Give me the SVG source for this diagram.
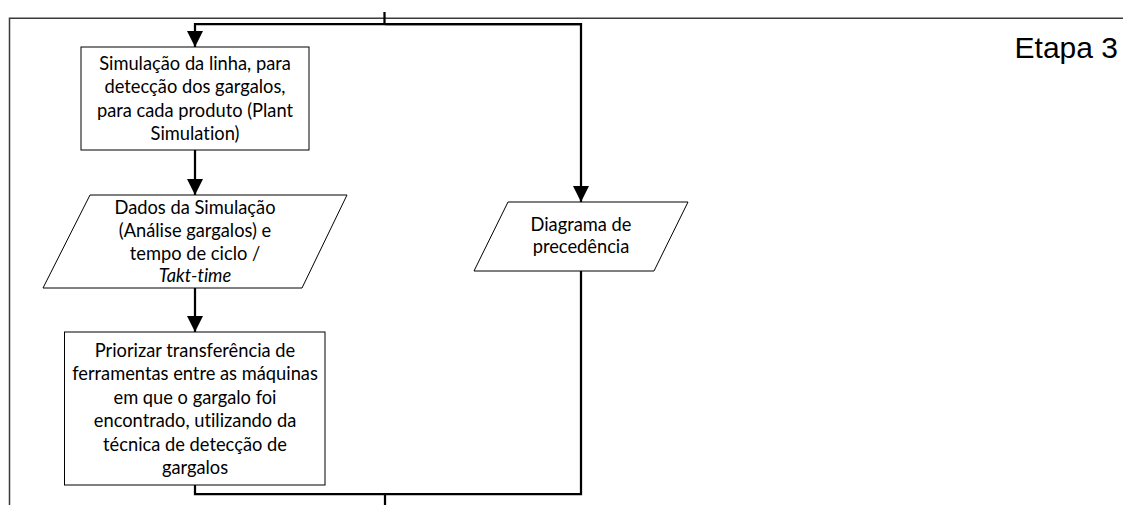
<svg xmlns="http://www.w3.org/2000/svg" width="1123" height="505" viewBox="0 0 1123 505">
  <style>
    .frame { fill: none; stroke: #3a3a3a; stroke-width: 1.5; }
    .shape { fill: #ffffff; stroke: #000000; stroke-width: 1; }
    .wire { fill: none; stroke: #000000; stroke-width: 2.25; }
    .label { font-family: Lato, "Open Sans", sans-serif; font-size: 18.3px; fill: #000000; text-anchor: middle; font-variant-ligatures: none; }
    .title { font-family: "Liberation Sans", Arial, sans-serif; font-size: 30px; fill: #000000; }
  </style>
  <defs>
    <marker id="arrow" markerUnits="userSpaceOnUse" markerWidth="16" markerHeight="16" viewBox="0 0 16 16" refX="16" refY="8" orient="auto">
      <path d="M0,0 L16,8 L0,16 Z" fill="#000000"/>
    </marker>
  </defs>
  <rect width="1123" height="505" fill="#ffffff"/>

  <!-- swimlane frame -->
  <g id="frame">
    <path class="frame" d="M9.5,505 V18.3 H1123"/>
    <text class="title" x="1118" y="57.5" text-anchor="end">Etapa 3</text>
  </g>

  <!-- connectors -->
  <g id="connectors">
    <path class="wire" d="M384.5,12 V25"/>
    <path class="wire" d="M581,24 H195 V47" marker-end="url(#arrow)"/>
    <path class="wire" d="M385,24 H581 V202" marker-end="url(#arrow)"/>
    <path class="wire" d="M195,150 V195" marker-end="url(#arrow)"/>
    <path class="wire" d="M195,288 V332" marker-end="url(#arrow)"/>
    <path class="wire" d="M195,485 V494 H581 V271"/>
    <path class="wire" d="M385,494 V505"/>
  </g>

  <g id="simulacao">
    <rect class="shape" x="81" y="47" width="228" height="103"/>
    <text class="label" x="195" y="70">Simulação da linha, para</text>
    <text class="label" x="195" y="93.3">detecção dos gargalos,</text>
    <text class="label" x="195" y="116.6">para cada produto (Plant</text>
    <text class="label" x="195" y="140">Simulation)</text>
  </g>

  <g id="dados">
    <polygon class="shape" points="90,195 347,195 302,288 43,288"/>
    <text class="label" x="195" y="213.5">Dados da Simulação</text>
    <text class="label" x="195" y="236.8">(Análise gargalos) e</text>
    <text class="label" x="195" y="260">tempo de ciclo /</text>
    <text class="label" x="195" y="282" font-style="italic">Takt-time</text>
  </g>

  <g id="priorizar">
    <rect class="shape" x="64.5" y="332" width="260.5" height="153"/>
    <text class="label" x="195" y="356.7">Priorizar transferência de</text>
    <text class="label" x="195" y="380">ferramentas entre as máquinas</text>
    <text class="label" x="195" y="403.5">em que o gargalo foi</text>
    <text class="label" x="195" y="427">encontrado, utilizando da</text>
    <text class="label" x="195" y="450.5">técnica de detecção de</text>
    <text class="label" x="195" y="474">gargalos</text>
  </g>

  <g id="precedencia">
    <polygon class="shape" points="508,202 688,202 654,271 474,271"/>
    <text class="label" x="581" y="231">Diagrama de</text>
    <text class="label" x="581" y="253">precedência</text>
  </g>
</svg>
